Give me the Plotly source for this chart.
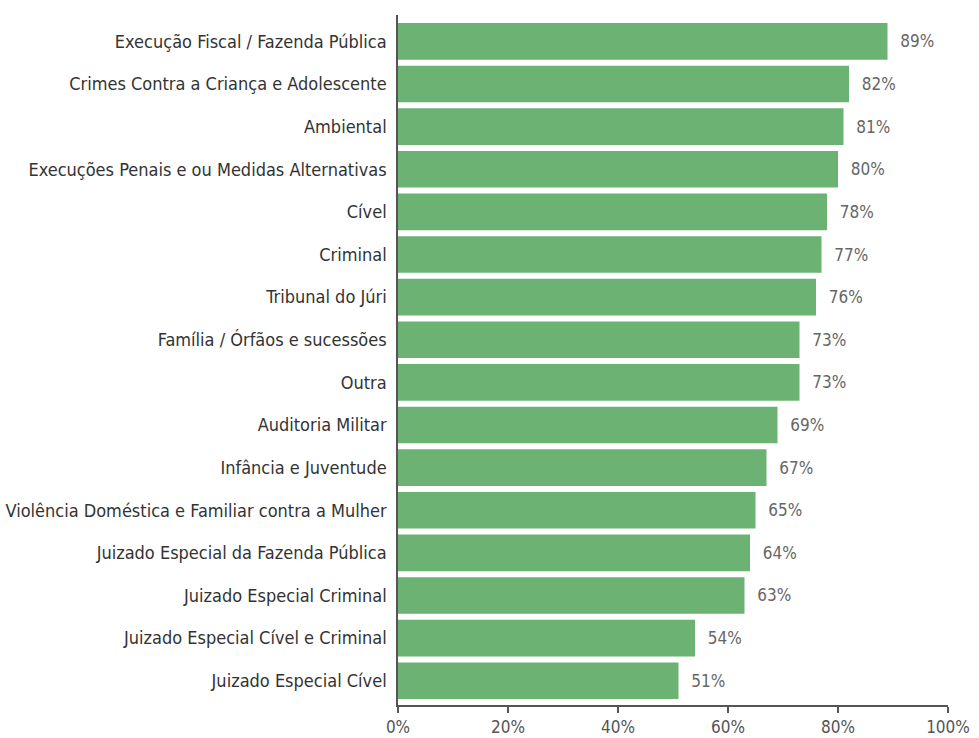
import plotly.graph_objects as go

categories = [
    "Execução Fiscal / Fazenda Pública",
    "Crimes Contra a Criança e Adolescente",
    "Ambiental",
    "Execuções Penais e ou Medidas Alternativas",
    "Cível",
    "Criminal",
    "Tribunal do Júri",
    "Família / Órfãos e sucessões",
    "Outra",
    "Auditoria Militar",
    "Infância e Juventude",
    "Violência Doméstica e Familiar contra a Mulher",
    "Juizado Especial da Fazenda Pública",
    "Juizado Especial Criminal",
    "Juizado Especial Cível e Criminal",
    "Juizado Especial Cível",
]
values = [89, 82, 81, 80, 78, 77, 76, 73, 73, 69, 67, 65, 64, 63, 54, 51]
tick_vals = [0, 20, 40, 60, 80, 100]
tick_text = ["0%", "20%", "40%", "60%", "80%", "100%"]

FONT = "DejaVu Sans Condensed, Liberation Sans Narrow, Arial Narrow, sans-serif"

cats_r = categories[::-1]
vals_r = values[::-1]

fig = go.Figure(go.Bar(
    y=cats_r,
    x=vals_r,
    orientation="h",
    marker=dict(color="#6cb373", line=dict(width=0)),
    width=0.86,
    text=[f"  {v}%" for v in vals_r],
    textposition="outside",
    textfont=dict(family=FONT, size=17, color="#666666"),
    cliponaxis=False,
    hoverinfo="skip",
))

fig.update_layout(
    width=979,
    height=738,
    margin=dict(l=398, r=31, t=15, b=33),
    paper_bgcolor="white",
    plot_bgcolor="white",
    showlegend=False,
    font=dict(family=FONT, size=18, color="#333333"),
    bargap=0.14,
)
fig.update_xaxes(
    range=[0, 100],
    tickvals=tick_vals,
    ticktext=tick_text,
    showgrid=False,
    zeroline=False,
    showline=True,
    linecolor="#555555",
    linewidth=1.5,
    ticks="outside",
    ticklen=6,
    tickwidth=1.5,
    tickcolor="#555555",
    tickfont=dict(family=FONT, size=17, color="#555555"),
    automargin=False,
    fixedrange=True,
)
fig.update_yaxes(
    range=[-0.57, 15.62],
    showgrid=False,
    zeroline=False,
    showline=True,
    linecolor="#555555",
    linewidth=1.5,
    ticks="",
    ticklabelstandoff=6,
    tickfont=dict(family=FONT, size=18, color="#333333"),
    automargin=False,
    fixedrange=True,
)

fig.write_html("out.html")
